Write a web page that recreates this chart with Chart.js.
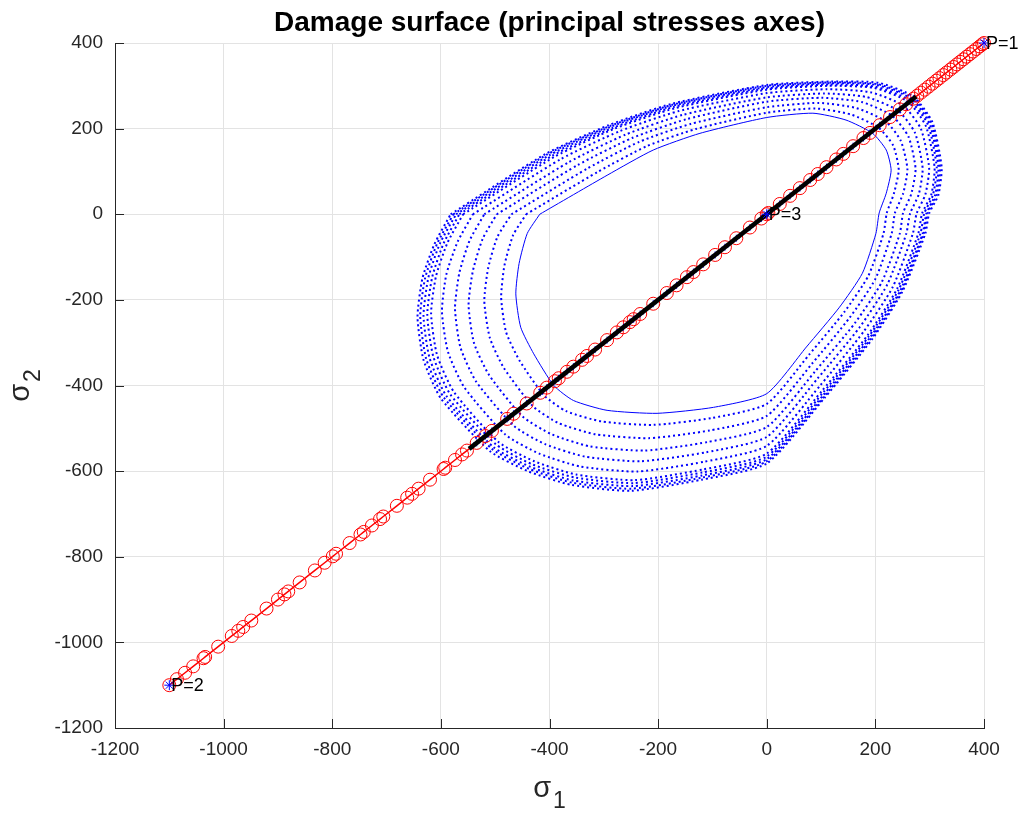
<!DOCTYPE html>
<html>
<head>
<meta charset="utf-8">
<title>Damage surface</title>
<script src="https://cdn.jsdelivr.net/npm/chart.js@4.4.1/dist/chart.umd.min.js"></script>
<style>
  html, body { margin: 0; padding: 0; background: #fff; }
  #chart { display: block; }
</style>
</head>
<body>
<canvas id="chart" width="1020" height="814"></canvas>
<script>
const tickValues = [-1200, -1000, -800, -600, -400, -200, 0, 200, 400];

// damage surfaces, [sigma1, sigma2] (inner line -> outer edge)
const innerSurface = [[-418,0],[-294,91],[-209,150],[-123,189],[0,226],[85,236],[146,220],[195,189],[220,150],[229,103],[220,49],[207,3],[201,-45],[176,-138],[134,-217],[73,-310],[0,-419],[-98,-451],[-202,-465],[-294,-458],[-356,-435],[-392,-400],[-429,-326],[-453,-264],[-462,-186],[-456,-115],[-441,-45]];
const ring1 = [[-443,0],[-311,99],[-221,159],[-131,199],[0,237],[90,247],[155,233],[206,202],[233,160],[243,104],[234,48],[221,3],[215,-45],[187,-144],[143,-228],[78,-328],[0,-443],[-101,-476],[-209,-492],[-304,-484],[-369,-460],[-410,-423],[-455,-342],[-480,-275],[-489,-194],[-483,-120],[-467,-49]];
const ring2 = [[-470,0],[-330,107],[-235,169],[-140,211],[0,250],[96,260],[165,248],[219,217],[247,171],[259,105],[251,48],[236,3],[230,-45],[200,-151],[153,-241],[84,-348],[0,-471],[-105,-505],[-217,-523],[-315,-514],[-383,-488],[-430,-449],[-484,-359],[-510,-288],[-520,-203],[-513,-126],[-496,-53]];
const ring3 = [[-497,0],[-348,115],[-248,178],[-148,222],[0,263],[101,272],[175,262],[231,230],[261,181],[274,106],[266,47],[251,3],[245,-45],[212,-158],[163,-253],[89,-367],[0,-497],[-109,-532],[-225,-552],[-326,-542],[-396,-514],[-449,-473],[-511,-376],[-539,-301],[-549,-212],[-541,-132],[-523,-57]];
const ring4 = [[-520,0],[-364,122],[-260,186],[-155,232],[0,273],[106,282],[183,274],[242,242],[273,190],[287,107],[280,47],[264,2],[257,-45],[222,-164],[171,-264],[94,-383],[0,-520],[-112,-556],[-232,-577],[-335,-566],[-408,-537],[-465,-495],[-535,-391],[-564,-311],[-574,-220],[-566,-137],[-547,-61]];
const ring5 = [[-541,0],[-379,129],[-271,194],[-162,241],[0,283],[111,292],[191,285],[251,254],[284,199],[299,108],[292,46],[276,2],[269,-45],[232,-170],[179,-273],[99,-399],[0,-541],[-115,-578],[-238,-601],[-344,-589],[-419,-559],[-481,-515],[-557,-404],[-587,-321],[-598,-227],[-590,-141],[-569,-64]];
const ring6 = [[-559,0],[-391,134],[-280,200],[-168,248],[0,291],[114,300],[198,295],[260,263],[293,206],[309,109],[303,46],[286,2],[279,-45],[240,-174],[186,-282],[102,-412],[0,-559],[-117,-596],[-243,-621],[-351,-608],[-428,-577],[-494,-532],[-576,-415],[-607,-329],[-618,-232],[-609,-145],[-588,-67]];
const ring7 = [[-566,0],[-396,136],[-283,202],[-170,251],[0,294],[116,303],[200,298],[263,266],[297,209],[313,109],[306,45],[290,2],[283,-45],[243,-176],[188,-285],[104,-416],[0,-566],[-118,-603],[-245,-628],[-353,-615],[-432,-584],[-498,-538],[-583,-420],[-614,-332],[-625,-235],[-616,-147],[-595,-68]];
const ring8 = [[-572,0],[-400,138],[-286,205],[-172,254],[0,297],[117,306],[202,302],[266,270],[300,211],[316,110],[310,45],[294,2],[287,-45],[246,-178],[190,-288],[105,-421],[0,-572],[-119,-610],[-247,-635],[-356,-622],[-435,-590],[-503,-544],[-590,-424],[-621,-335],[-632,-237],[-623,-148],[-602,-69]];
const ring9 = [[-577,0],[-404,140],[-289,206],[-173,256],[0,300],[118,308],[204,304],[268,272],[303,213],[319,110],[313,45],[296,2],[289,-45],[248,-179],[192,-290],[106,-425],[0,-577],[-119,-615],[-249,-641],[-358,-627],[-437,-595],[-506,-548],[-595,-427],[-627,-338],[-638,-238],[-629,-149],[-607,-69]];
const outerSurface = [[-582,0],[-407,141],[-291,208],[-175,258],[0,302],[119,310],[206,307],[270,275],[305,215],[322,110],[316,45],[299,2],[292,-45],[250,-180],[194,-292],[107,-428],[0,-582],[-120,-620],[-250,-646],[-360,-632],[-440,-600],[-510,-553],[-600,-430],[-632,-340],[-643,-240],[-634,-150],[-612,-70]];

// loading path on sigma1 = sigma2 (red circles)
const loadPath = [-1100,-1086,-1071,-1056,-1037,-1034,-1010,-985,-973,-964,-949,-921,-900,-888,-881,-860,-832,-814,-799,-793,-768,-748,-742,-727,-712,-706,-681,-662,-653,-641,-620,-595,-592,-574,-561,-552,-534,-518,-506,-478,-466,-442,-417,-405,-390,-383,-368,-356,-340,-331,-316,-294,-276,-264,-252,-245,-233,-209,-184,-166,-147,-135,-117,-95,-77,-56,-31,-10,0,3,24,43,61,80,94,110,128,141,159,178,190,208,227,245,257,270,277,284,291,298,305,312,318,325,331,338,344,350,356,362,368,374,380,386,392,397,400];

// black segment (elastic range) ends
const blackPath = [-548, 275];

// labelled load points
const pointLabels = ['P=1', 'P=2', 'P=3'];
const pointStress = [400, -1100, 0];

const FONT = '"Liberation Sans", Arial, Helvetica, sans-serif';
const BLUE = '#0000ff';

const toPoints = pairs => pairs.map(p => ({x: p[0], y: p[1]}));
const closed = pairs => toPoints(pairs.concat([pairs[0]]));
const diag = vals => vals.map(v => ({x: v, y: v}));

function ringSet(pairs, dotted) {
    return {
        data: closed(pairs),
        showLine: true,
        borderColor: BLUE,
        borderWidth: dotted ? 2 : 1,
        borderDash: dotted ? [2, 3] : [],
        pointRadius: 0,
        tension: 0.2,
        order: 6
    };
}

const annotations = {
    id: 'annotations',
    beforeDatasetsDraw(chart) {
        const {ctx, chartArea: a, scales: {x, y}} = chart;
        ctx.save();
        ctx.strokeStyle = '#262626';
        ctx.lineWidth = 1;
        ctx.beginPath();
        tickValues.forEach(v => {
            const px = Math.round(x.getPixelForValue(v)) + 0.5;
            ctx.moveTo(px, a.bottom);
            ctx.lineTo(px, a.bottom - 9);
            const py = Math.round(y.getPixelForValue(v)) + 0.5;
            ctx.moveTo(a.left, py);
            ctx.lineTo(a.left + 9, py);
        });
        ctx.stroke();
        ctx.restore();
    },
    afterDatasetsDraw(chart) {
        const {ctx, chartArea: a, scales: {x, y}} = chart;
        ctx.save();
        ctx.fillStyle = '#000';
        ctx.font = '18px ' + FONT;
        ctx.textAlign = 'left';
        ctx.textBaseline = 'middle';
        pointLabels.forEach((label, i) => {
            ctx.fillText(label, x.getPixelForValue(pointStress[i]) + 2, y.getPixelForValue(pointStress[i]) + 1);
        });

        // title
        ctx.font = 'bold 28px ' + FONT;
        ctx.textAlign = 'center';
        ctx.textBaseline = 'alphabetic';
        ctx.fillText('Damage surface (principal stresses axes)', (a.left + a.right) / 2, 31);

        // axis labels
        ctx.fillStyle = '#262626';
        drawSub(ctx, 'σ', '1', (a.left + a.right) / 2, 797);
        ctx.translate(29, (a.top + a.bottom) / 2);
        ctx.rotate(-Math.PI / 2);
        drawSub(ctx, 'σ', '2', 0, 0);
        ctx.restore();
    }
};

function drawSub(ctx, main, sub, cx, baseline) {
    ctx.textAlign = 'left';
    ctx.textBaseline = 'alphabetic';
    ctx.font = '29px ' + FONT;
    const w1 = ctx.measureText(main).width;
    ctx.font = '23px ' + FONT;
    const w2 = ctx.measureText(sub).width;
    const start = cx - (w1 + w2 + 2) / 2;
    ctx.font = '29px ' + FONT;
    ctx.fillText(main, start, baseline);
    ctx.font = '23px ' + FONT;
    ctx.fillText(sub, start + w1 + 2, baseline + 11);
}

function axisOptions(isX) {
    return {
        type: 'linear',
        min: -1200,
        max: 400,
        afterBuildTicks: s => { s.ticks = tickValues.map(v => ({value: v})); },
        afterFit: s => { if (isX) s.height = 86; else s.width = 115; },
        grid: { color: '#e3e3e3', lineWidth: 1, drawTicks: false },
        border: { display: true, color: '#262626', width: 1 },
        ticks: {
            color: '#262626',
            font: { family: FONT, size: 19 },
            padding: isX ? 10 : 12,
            maxRotation: 0,
            autoSkip: false,
            callback: v => String(v)
        }
    };
}

new Chart(document.getElementById('chart'), {
    type: 'scatter',
    data: {
        datasets: [
            ringSet(innerSurface, false),
            ringSet(ring1, true),
            ringSet(ring2, true),
            ringSet(ring3, true),
            ringSet(ring4, true),
            ringSet(ring5, true),
            ringSet(ring6, true),
            ringSet(ring7, true),
            ringSet(ring8, true),
            ringSet(ring9, true),
            ringSet(outerSurface, true),
            {
                data: diag(loadPath),
                showLine: true,
                borderColor: '#ff0000',
                borderWidth: 1.5,
                pointStyle: 'circle',
                pointRadius: 6.5,
                pointBorderColor: '#ff0000',
                pointBackgroundColor: 'rgba(0,0,0,0)',
                pointBorderWidth: 1,
                clip: false,
                order: 4
            },
            {
                data: diag(loadPath.filter(v => v >= blackPath[0] && v <= blackPath[1])),
                showLine: false,
                pointStyle: 'cross',
                pointRadius: 3.5,
                pointBorderColor: BLUE,
                pointBorderWidth: 1,
                order: 3
            },
            {
                data: diag(blackPath),
                showLine: true,
                borderColor: '#000',
                borderWidth: 4.5,
                pointRadius: 0,
                order: 2
            },
            {
                data: diag(pointStress),
                showLine: false,
                pointStyle: 'star',
                pointRadius: 5,
                pointBorderColor: BLUE,
                pointBorderWidth: 1,
                clip: false,
                order: 1
            }
        ]
    },
    options: {
        responsive: false,
        animation: false,
        devicePixelRatio: 1,
        layout: { padding: { top: 43, right: 36, left: 0, bottom: 0 } },
        plugins: { legend: { display: false }, tooltip: { enabled: false } },
        scales: { x: axisOptions(true), y: axisOptions(false) }
    },
    plugins: [annotations]
});
</script>
</body>
</html>
